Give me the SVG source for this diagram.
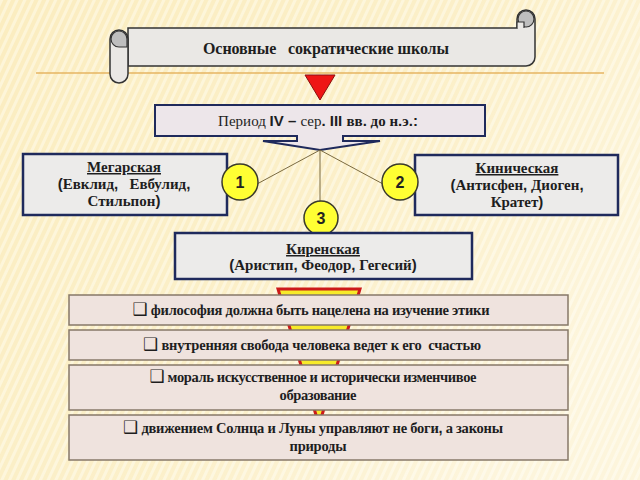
<svg xmlns="http://www.w3.org/2000/svg" width="640" height="480" viewBox="0 0 640 480">
<defs>
<pattern id="stripes" width="7" height="7" patternUnits="userSpaceOnUse" patternTransform="rotate(25)">
<rect width="7" height="7" fill="#FBEDC0"/>
<rect width="3" height="7" fill="#FDF5D8"/>
</pattern>
<linearGradient id="glow" x1="0" y1="0" x2="1" y2="0.6">
<stop offset="0" stop-color="#FFFFFF" stop-opacity="0"/>
<stop offset="0.6" stop-color="#FFFFFF" stop-opacity="0.15"/>
<stop offset="1" stop-color="#FFFFFF" stop-opacity="0.45"/>
</linearGradient>
<style>
.t{font-family:"Liberation Serif","DejaVu Serif",serif;font-weight:bold;fill:#1E1E1E;text-anchor:middle}
.s{font-family:"Liberation Sans","DejaVu Sans",sans-serif;font-weight:900}
.school{fill:#ECEBEA;stroke:#1F2A5C;stroke-width:2.5}
.item{fill:#EFE3DE;stroke:#877868;stroke-width:1.5}
.badge{fill:#FFFF33;stroke:#3A3A2A;stroke-width:1.5}
.num{font-family:"Liberation Sans","DejaVu Sans",sans-serif;font-weight:bold;font-size:16px;fill:#222;text-anchor:middle}
.conn{stroke:#7A6A40;stroke-width:1;fill:none}
.box{font-family:"DejaVu Sans",sans-serif;font-weight:bold;font-size:17px}
</style>
</defs>
<rect width="640" height="480" fill="url(#stripes)"/>
<rect width="640" height="480" fill="url(#glow)"/>
<line x1="36" y1="73" x2="604" y2="73" stroke="#E6B462" stroke-width="1.5"/>

<g id="title">
<path d="M128 28 H517 V19 A9 9 0 0 1 535 19 V57 A9 9 0 0 1 526 66 H128 Z" fill="#EAE8E5" stroke="#333" stroke-width="1.5"/>
<circle cx="526" cy="19" r="8" fill="#BEBEBE" stroke="#333" stroke-width="1.2"/>
<path d="M517 28 V22 H524 V28" fill="#EAE8E5" stroke="#333" stroke-width="1.2"/>
<path d="M110 39 A9 9 0 0 1 128 39 V74 A9 9 0 0 1 110 74 Z" fill="#EAE8E5" stroke="#333" stroke-width="1.5"/>
<path d="M119 47 A8 8 0 0 1 119 31 A8 8 0 0 1 127 39 V47 Z" fill="#BEBEBE" stroke="#333" stroke-width="1.2"/>
<text class="t" x="326" y="54" font-size="16" textLength="246" lengthAdjust="spacing" xml:space="preserve">Основные   сократические школы</text>
</g>
<polygon points="305,75 335,75 320,100" fill="#EE1515" stroke="#8A1010" stroke-width="1"/>

<g id="period">
<path d="M155 105 H485 V136 H343 V141 H380 L320 150 L263 141 H297 V136 H155 Z" fill="#EDE6EA" stroke="#1F2A5C" stroke-width="2"/>
<text class="t" x="318" y="126" font-size="15" xml:space="preserve"><tspan font-weight="normal">Период </tspan><tspan class="s">IV – </tspan><tspan font-weight="normal">сер</tspan><tspan class="s">. III </tspan><tspan>вв</tspan><tspan class="s">.</tspan><tspan> до н</tspan><tspan class="s">.</tspan><tspan>э</tspan><tspan class="s">.:</tspan></text>
</g>

<g id="connectors">
<line class="conn" x1="320" y1="150" x2="257" y2="184"/>
<line class="conn" x1="320" y1="150" x2="383" y2="184"/>
<line class="conn" x1="320" y1="150" x2="320" y2="202"/>
</g>

<g id="megarskaya">
<rect class="school" x="23" y="154" width="204" height="61"/>
<text class="t" x="124" y="172" font-size="15" text-decoration="underline">Мегарская</text>
<text class="t" x="124" y="189" font-size="15" xml:space="preserve"><tspan class="s">(</tspan>Евклид<tspan class="s">,</tspan>   Евбулид<tspan class="s">,</tspan></text>
<text class="t" x="124" y="206" font-size="15">Стильпон<tspan class="s">)</tspan></text>
</g>

<g id="kinicheskaya">
<rect class="school" x="415" y="155" width="203" height="60"/>
<text class="t" x="517" y="173" font-size="15" text-decoration="underline">Киническая</text>
<text class="t" x="517" y="190" font-size="15" xml:space="preserve"><tspan class="s">(</tspan>Антисфен<tspan class="s">,</tspan> Диоген<tspan class="s">,</tspan></text>
<text class="t" x="517" y="207" font-size="15">Кратет<tspan class="s">)</tspan></text>
</g>

<g id="badge1">
<circle class="badge" cx="240" cy="182" r="18"/>
<text class="num" x="240" y="188">1</text>
</g>
<g id="badge2">
<circle class="badge" cx="400" cy="182" r="18"/>
<text class="num" x="400" y="188">2</text>
</g>
<g id="badge3">
<circle class="badge" cx="321" cy="218" r="17"/>
<text class="num" x="321" y="224">3</text>
</g>

<g id="kirenskaya">
<rect class="school" x="175" y="233" width="297" height="46"/>
<text class="t" x="323" y="254" font-size="15" text-decoration="underline">Киренская</text>
<text class="t" x="323" y="270" font-size="15" xml:space="preserve"><tspan class="s">(</tspan>Аристип<tspan class="s">,</tspan> Феодор<tspan class="s">,</tspan> Гегесий<tspan class="s">)</tspan></text>
</g>

<polygon id="list-arrow" points="278,289 360,289 319,425" fill="#F7EA2A" stroke="#CC1A1A" stroke-width="3"/>

<g id="item1">
<rect class="item" x="69" y="295" width="499" height="30"/>
<text class="t" x="311" y="315" font-size="14.5" textLength="357" lengthAdjust="spacing"><tspan class="box">❑</tspan> философия должна быть нацелена на изучение этики</text>
</g>
<g id="item2">
<rect class="item" x="69" y="330" width="499" height="30"/>
<text class="t" x="312" y="350" font-size="14.5" textLength="338" lengthAdjust="spacing" xml:space="preserve"><tspan class="box">❑</tspan> внутренняя свобода человека ведет к его  счастью</text>
</g>
<g id="item3">
<rect class="item" x="69" y="365" width="499" height="45"/>
<text class="t" x="313" y="382" font-size="14.5" textLength="327" lengthAdjust="spacing"><tspan class="box">❑</tspan> мораль искусственное и исторически изменчивое</text>
<text class="t" x="318" y="400" font-size="14.5" textLength="77" lengthAdjust="spacing">образование</text>
</g>
<g id="item4">
<rect class="item" x="69" y="415" width="499" height="45"/>
<text class="t" x="313" y="433" font-size="14.5" textLength="380" lengthAdjust="spacing"><tspan class="box">❑</tspan> движением Солнца и Луны управляют не боги<tspan class="s">,</tspan> а законы</text>
<text class="t" x="318" y="451" font-size="14.5" textLength="57" lengthAdjust="spacing">природы</text>
</g>
</svg>
